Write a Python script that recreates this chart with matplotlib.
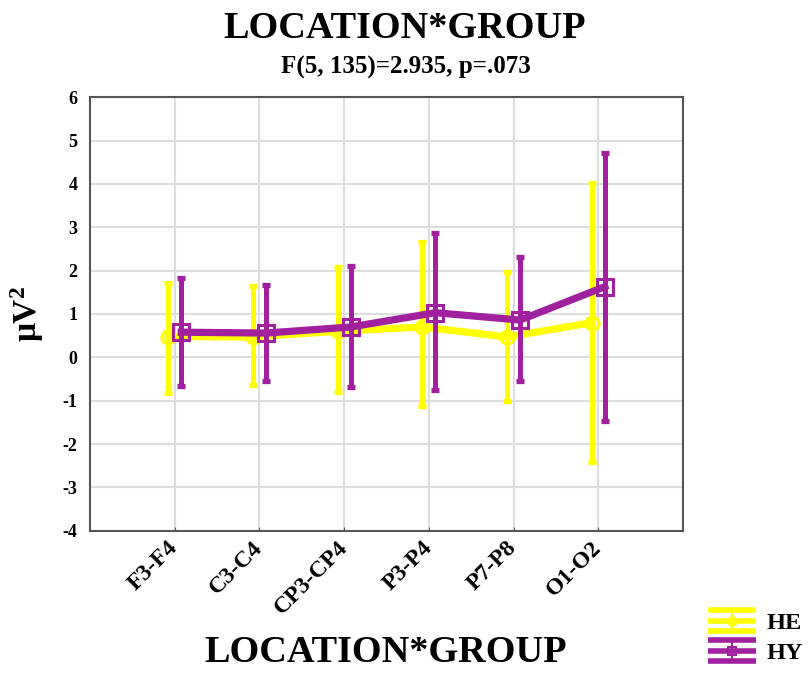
import matplotlib
matplotlib.use("Agg")
import matplotlib.pyplot as plt
from matplotlib.lines import Line2D
from matplotlib.legend_handler import HandlerBase

categories = ["F3-F4", "C3-C4", "CP3-CP4", "P3-P4", "P7-P8", "O1-O2"]
he_mean = [0.48, 0.47, 0.60, 0.70, 0.47, 0.80]
he_upper = [1.72, 1.65, 2.08, 2.66, 1.96, 4.02]
he_lower = [-0.83, -0.64, -0.79, -1.13, -1.00, -2.42]
hy_mean = [0.58, 0.56, 0.70, 1.03, 0.86, 1.63]
hy_upper = [1.83, 1.68, 2.10, 2.88, 2.31, 4.72]
hy_lower = [-0.65, -0.55, -0.69, -0.75, -0.55, -1.47]
yticks = [-4, -3, -2, -1, 0, 1, 2, 3, 4, 5, 6]

YEL = "#FFFF00"
PUR = "#A0209E"
SERIF = "Liberation Serif"

plt.rcParams["font.family"] = SERIF
plt.rcParams["font.weight"] = "bold"
plt.rcParams["mathtext.fontset"] = "custom"
plt.rcParams["mathtext.rm"] = "Liberation Serif:bold"
plt.rcParams["mathtext.bf"] = "Liberation Serif:bold"
plt.rcParams["mathtext.it"] = "Liberation Serif:bold"

fig = plt.figure(figsize=(8.09, 6.73), dpi=100)
ax = fig.add_axes([90/809, 1-530.7/673, (683-90)/809, (530.7-97.3)/673])

xs = list(range(1, len(categories)+1))
off = 0.077

def draw(xoff, mean, lo, up, color, marker, ms, z):
    x = [v + xoff for v in xs]
    yerr = [[m - l for m, l in zip(mean, lo)], [u - m for m, u in zip(mean, up)]]
    ax.errorbar(x, mean, yerr=yerr, fmt="none", ecolor=color, elinewidth=3.6,
                capsize=3.0, capthick=3.8, zorder=z)
    ax.plot(x, mean, color=color, lw=5.2, zorder=z+0.1, solid_joinstyle="miter")
    ax.plot(x, mean, linestyle="none", marker=marker, ms=ms, mfc="none",
            mec=color, mew=2.2, zorder=z+0.2)

draw(-off, he_mean, he_lower, he_upper, YEL, "o", 9.5, 3)
draw(off, hy_mean, hy_lower, hy_upper, PUR, "s", 12, 4)

ax.set_xlim(0, 7)
ax.set_ylim(-4, 6)
ax.set_xticks(xs)
ax.set_xticklabels(categories, rotation=45, ha="right", va="center",
                   rotation_mode="anchor", fontsize=17, fontweight="bold")
ax.set_yticks(yticks)
ax.set_yticklabels([str(t) for t in yticks], fontsize=13, fontweight="bold")
ax.grid(True, color="#DDDDDD", lw=1.5, zorder=0)
ax.set_axisbelow(True)
ax.tick_params(axis="x", length=3, direction="in", color="#555555", pad=10)
ax.tick_params(axis="y", length=0, pad=9)
for s in ax.spines.values():
    s.set_color("#555555")
    s.set_linewidth(1.5)

ax.set_ylabel("μV$^{2}$", fontsize=24, fontweight="bold", labelpad=12)
fig.text(405/809, 1-28/673, "LOCATION*GROUP", ha="center", va="center",
         fontsize=27.5, fontweight="bold")
fig.text(406/809, 1-67/673, "F(5, 135)=2.935, p=.073", ha="center", va="center",
         fontsize=18, fontweight="bold")
fig.text(386/809, 1-652/673, "LOCATION*GROUP", ha="center", va="center",
         fontsize=27.5, fontweight="bold")


class ErrHandler(HandlerBase):
    def __init__(self, color, marker, ms):
        super().__init__()
        self.color, self.marker, self.ms = color, marker, ms

    def create_artists(self, legend, orig_handle, xdescent, ydescent, width,
                       height, fontsize, trans):
        arts = []
        cy = height / 2 - ydescent
        for dy in (-0.5 * height, 0, 0.5 * height):
            arts.append(Line2D([-xdescent, -xdescent + width], [cy + dy, cy + dy],
                               color=self.color, lw=4, transform=trans,
                               solid_capstyle="butt"))
        cx = -xdescent + width / 2
        arts.append(Line2D([cx, cx], [cy - 0.5*height, cy + 0.5*height],
                           color=self.color, lw=1.5, transform=trans))
        arts.append(Line2D([cx], [cy], marker=self.marker, ms=self.ms, mfc="none",
                           mec=self.color, mew=1.5, linestyle="none", transform=trans))
        return arts


h1 = Line2D([], [])
h2 = Line2D([], [])
leg = fig.legend([h1, h2], ["HE", "HY"], loc="lower right",
                 bbox_to_anchor=(1.0 + 10/809, -7/673), frameon=False,
                 prop={"family": SERIF, "weight": "bold", "size": 17.5},
                 handler_map={h1: ErrHandler(YEL, "o", 6), h2: ErrHandler(PUR, "s", 6)},
                 handlelength=1.95, handleheight=0.95, handletextpad=0.45,
                 labelspacing=0.25, borderaxespad=0.25)

fig.savefig("out.png", dpi=100)
